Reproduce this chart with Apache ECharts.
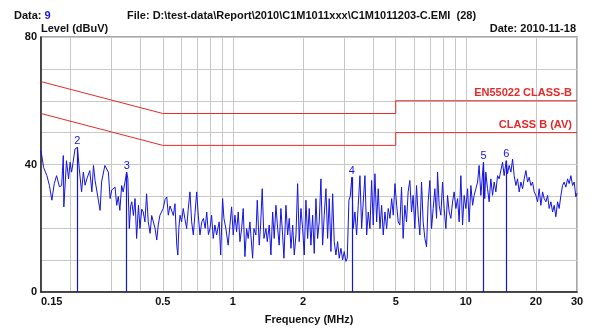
<!DOCTYPE html>
<html>
<head>
<meta charset="utf-8">
<script src="https://cdn.jsdelivr.net/npm/echarts@6/dist/echarts.min.js"></script>
<style>html,body{margin:0;padding:0;background:#fff}#c{width:600px;height:330px}</style>
</head>
<body>
<div id="c"></div>
<script>
// Measured trace: frequency (MHz) and level (dBuV)
const freqMHz = [
0.150,0.154,0.159,0.163,0.167,0.171,0.175,0.180,0.184,0.187,0.188,0.193,0.197,0.200,0.203,0.206,0.210,0.215,0.219,0.224,
0.228,0.232,0.236,0.243,0.248,0.252,0.256,0.260,0.269,0.273,0.282,0.287,0.292,0.297,0.302,0.307,0.312,0.317,0.322,0.327,
0.333,0.338,0.344,0.350,0.354,0.359,0.364,0.368,0.374,0.380,0.386,0.393,0.399,0.406,0.412,0.419,0.426,0.433,0.441,0.448,
0.455,0.463,0.471,0.478,0.486,0.502,0.511,0.520,0.528,0.537,0.546,0.555,0.564,0.574,0.580,0.586,0.593,0.602,0.612,0.622,
0.633,0.643,0.654,0.665,0.676,0.688,0.699,0.710,0.722,0.735,0.747,0.760,0.772,0.785,
0.797,0.810,0.823,0.837,0.851,0.873,0.886,0.903,0.915,0.933,0.954,0.971,0.987,1.003,1.020,1.037,1.054,1.072,1.090,1.107,
1.126,1.145,1.163,1.183,1.215,1.231,1.255,1.272,1.297,1.315,1.336,1.359,1.386,1.404,1.432,1.456,1.481,1.504,1.530,1.556,
1.580,1.607,1.634,1.656,1.689,1.718,1.745,1.775,1.805,1.834,1.865,1.896,1.926,1.959,1.992,2.024,2.058,2.093,2.126,2.162,
2.199,2.234,2.272,2.310,2.347,2.387,2.427,2.466,2.508,2.550,2.591,2.635,2.680,2.722,2.768,2.815,2.860,2.908,2.958,3.005,
3.056,3.096,3.148,3.189,3.240,3.284,3.340,3.397,3.451,3.510,3.569,3.627,3.688,3.751,3.810,3.875,3.940,4.003,4.071,4.140,
4.206,4.278,4.350,4.419,4.494,4.570,4.643,4.722,4.802,4.879,4.962,5.046,5.125,
5.206,5.295,5.380,5.471,5.563,5.652,5.748,5.845,5.938,6.039,6.141,6.240,6.346,6.453,6.556,6.668,6.781,6.889,7.006,7.124,
7.238,7.360,7.485,7.559,7.681,7.811,7.943,8.069,8.207,8.346,8.479,8.623,8.769,8.908,9.060,9.213,9.359,9.517,9.678,9.833,
10.00,10.17,10.33,10.51,10.69,10.85,11.04,11.23,11.40,11.60,11.90,12.05,12.18,12.39,12.59,12.80,13.02,13.23,13.45,13.68,
13.90,14.13,14.37,14.60,14.90,15.10,15.34,15.61,15.87,16.12,16.40,16.67,16.94,17.23,17.52,17.80,18.10,18.41,18.70,19.02,
19.34,19.65,19.98,20.32,20.64,20.99,21.35,21.69,22.06,22.43,22.79,23.17,23.57,23.94,24.34,24.76,25.15,25.58,26.01,26.42,
26.87,27.33,27.77,28.24,28.72,29.17,29.67,30.00
];
const levelDb = [
44.3,39.0,36.5,33.4,28.8,34.0,36.5,33.0,33.4,42.8,26.7,41.2,35.5,40.7,37.6,40.7,44.9,45.4,38.6,31.4,
37.6,33.5,35.5,38.1,31.4,39.7,35.0,34.5,25.6,34.5,39.7,40.2,37.6,29.3,32.0,31.4,32.9,27.2,30.0,25.6,
33.4,31.4,34.5,37.6,35.5,19.9,27.0,28.3,24.0,29.3,16.8,27.2,19.9,26.0,25.1,22.0,30.8,22.0,18.4,24.0,
23.6,20.0,16.3,21.0,24.1,26.2,29.0,29.8,24.1,27.0,27.2,24.0,27.7,14.7,11.6,20.0,24.1,22.0,26.2,23.0,
19.9,26.0,31.4,22.0,17.9,25.0,31.4,24.1,17.9,22.0,23.1,20.0,25.1,18.0,
19.9,24.1,16.8,21.0,17.9,22.0,11.6,29.3,23.1,19.9,14.7,21.0,26.7,17.9,24.1,18.9,25.1,15.8,19.9,26.2,
11.1,19.9,16.8,22.0,10.6,19.9,17.9,28.8,14.7,21.0,32.4,16.8,19.9,15.8,21.0,11.6,25.1,16.8,27.2,19.9,
14.7,26.2,17.9,10.6,27.2,17.9,23.1,13.7,21.0,11.6,17.9,34.0,15.8,26.2,19.9,11.6,28.8,16.8,26.2,14.7,
24.1,12.1,29.3,16.8,22.0,35.5,14.7,24.1,32.4,16.8,29.3,12.7,30.8,15.8,11.6,15.8,10.6,13.7,10.1,12.7,
9.6,10.6,28.8,30.0,36.0,19.9,25.1,17.9,27.2,36.5,19.9,28.3,36.5,17.9,25.1,19.9,35.0,21.0,37.1,22.0,
32.4,19.9,27.2,17.9,25.1,19.9,26.2,23.1,29.3,24.1,34.0,27.2,22.0,
21.0,32.9,16.8,27.2,22.0,31.4,35.0,25.1,30.3,19.9,33.4,24.1,17.9,34.5,22.0,16.8,14.2,28.3,35.0,19.9,
26.2,32.4,23.1,37.6,27.2,24.1,34.5,26.2,19.9,30.3,25.1,23.1,28.3,31.4,26.2,29.3,22.0,36.5,21.0,30.3,
26.2,32.4,22.0,33.4,27.2,30.3,32.4,34.5,39.7,30.3,40.7,29.3,37.6,32.4,28.3,35.5,30.3,34.5,31.4,36.5,
35.5,38.1,40.7,36.5,41.2,37.1,39.7,37.6,41.7,36.5,33.4,35.5,31.4,34.5,32.4,35.5,38.1,34.5,36.0,33.4,
34.5,31.4,30.3,28.3,32.4,27.2,31.4,29.3,28.3,30.3,26.2,28.3,25.1,27.2,23.6,28.3,26.2,30.3,33.4,34.5,
32.9,35.5,34.0,36.5,33.4,34.5,29.8,31.0
];
// Limit lines (EN55022 class B)
const qpFreq  = [0.15, 0.5, 5, 5, 30];
const qpLevel = [66, 56, 56, 60, 60];
const avFreq  = [0.15, 0.5, 5, 5, 30];
const avLevel = [56, 46, 46, 50, 50];
const limitNames = ['EN55022 CLASS-B', 'CLASS B (AV)'];
// Markers
const markerIds   = ['2', '3', '4', '5', '6'];
const markerFreq  = [0.215, 0.350, 3.24, 11.9, 14.9];
const markerLevel = [45.4, 37.6, 36.0, 40.7, 41.2];
// Axis ticks
const xLabelValues = [0.15, 0.5, 1, 2, 5, 10, 20, 30];
const xGridValues = [0.15,0.2,0.3,0.4,0.5,0.6,0.7,0.8,0.9,1,2,3,4,5,6,7,8,9,10,20,30];
const yLabelValues = [0, 40, 80];

const zip = (a, b) => a.map((v, i) => [v, b[i]]);
const BLUE = '#1414e0', RED = '#e42a2a';
const FONT = 'bold 11px Liberation Sans, Arial, sans-serif';
const bold = {fontFamily: 'Liberation Sans, Arial, sans-serif', fontWeight: 'bold', fontSize: 11, color: '#111'};

const chart = echarts.init(document.getElementById('c'), null, {renderer: 'canvas'});
chart.setOption({
  animation: false,
  backgroundColor: '#fff',
  grid: {left: 41, right: 23, top: 37, bottom: 36, show: true, borderColor: '#8a8a8a', borderWidth: 1.5},
  xAxis: {
    type: 'log', logBase: 10, min: 0.15, max: 30,
    name: 'Frequency (MHz)', nameLocation: 'middle', nameGap: 22,
    nameTextStyle: Object.assign({}, bold),
    axisLine: {show: true, lineStyle: {color: '#222', width: 1.5}},
    axisTick: {show: false, customValues: xGridValues},
    axisLabel: Object.assign({}, bold, {
      customValues: xLabelValues, margin: 4,
      alignMinLabel: 'left', alignMaxLabel: 'center',
      formatter: v => String(+v.toFixed(2))
    }),
    splitLine: {show: true, lineStyle: {color: '#c8c8c8', width: 1}},
    minorSplitLine: {show: false}
  },
  yAxis: {
    type: 'value', min: 0, max: 80, interval: 10,
    axisLine: {show: true, lineStyle: {color: '#222', width: 1.5}},
    axisTick: {show: false},
    axisLabel: Object.assign({}, bold, {margin: 4, formatter: v => yLabelValues.includes(v) ? String(v) : ''}),
    splitLine: {show: true, lineStyle: {color: '#c8c8c8', width: 1}}
  },
  graphic: [
    {type: 'text', left: 14, top: 10, style: {rich: {a: {fontFamily: bold.fontFamily, fontWeight: 'bold', fontSize: 11, fill: '#111'}, b: {fontFamily: bold.fontFamily, fontWeight: 'bold', fontSize: 11, fill: '#1a1ad8'}}, text: '{a|Data: }{b|9}'}},
    {type: 'text', left: 127, top: 10, style: {text: 'File: D:\\test-data\\Report\\2010\\C1M1011xxx\\C1M1011203-C.EMI  (28)', font: FONT, fill: '#111'}},
    {type: 'text', left: 41, top: 23, style: {text: 'Level (dBuV)', font: FONT, fill: '#111'}},
    {type: 'text', right: 24, top: 23, style: {text: 'Date: 2010-11-18', font: FONT, fill: '#111'}}
  ],
  series: [
    {
      type: 'line', data: zip(qpFreq, qpLevel), showSymbol: false, silent: true,
      lineStyle: {color: RED, width: 1},
      markPoint: {symbol: 'circle', symbolSize: 0, silent: true,
        data: [{coord: [qpFreq[qpFreq.length - 1], qpLevel[qpLevel.length - 1]]}],
        label: {show: true, position: 'left', distance: 5, offset: [0, -8], formatter: limitNames[0], fontFamily: bold.fontFamily, fontWeight: 'bold', fontSize: 11, color: RED}}
    },
    {
      type: 'line', data: zip(avFreq, avLevel), showSymbol: false, silent: true,
      lineStyle: {color: RED, width: 1},
      markPoint: {symbol: 'circle', symbolSize: 0, silent: true,
        data: [{coord: [avFreq[avFreq.length - 1], avLevel[avLevel.length - 1]]}],
        label: {show: true, position: 'left', distance: 5, offset: [0, -8], formatter: limitNames[1], fontFamily: bold.fontFamily, fontWeight: 'bold', fontSize: 11, color: RED}}
    },
    {
      type: 'line', data: zip(freqMHz, levelDb), showSymbol: false, silent: true,
      lineStyle: {color: BLUE, width: 1},
      markLine: {
        silent: true, symbol: ['none', 'none'], animation: false,
        lineStyle: {color: BLUE, width: 1.2, type: 'solid'},
        label: {show: true, position: 'end', distance: 1, color: BLUE, fontSize: 11, fontFamily: 'Liberation Sans, Arial, sans-serif'},
        data: markerIds.map((id, i) => [
          {coord: [markerFreq[i], 0], label: {formatter: id}},
          {coord: [markerFreq[i], markerLevel[i]]}
        ])
      }
    }
  ]
});
</script>
</body>
</html>
